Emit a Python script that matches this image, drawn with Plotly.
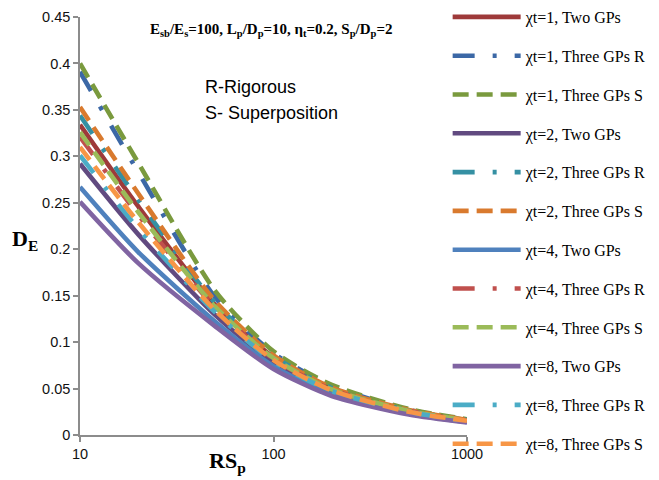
import plotly.graph_objects as go

# Slenderness ratio of the pile group (x axis, log scale)
rs_p = [10, 20, 50, 100, 200, 500, 1000]

# Settlement influence D_E for each case
names = [
    "χt=1, Two GPs", "χt=1, Three GPs R", "χt=1, Three GPs S",
    "χt=2, Two GPs", "χt=2, Three GPs R", "χt=2, Three GPs S",
    "χt=4, Two GPs", "χt=4, Three GPs R", "χt=4, Three GPs S",
    "χt=8, Two GPs", "χt=8, Three GPs R", "χt=8, Three GPs S",
]

chi1_two     = [0.334, 0.246, 0.140, 0.0837, 0.0498, 0.026, 0.0150]
chi1_three_r = [0.391, 0.283, 0.148, 0.0880, 0.0530, 0.027, 0.0165]
chi1_three_s = [0.400, 0.293, 0.155, 0.0900, 0.0540, 0.028, 0.0170]
chi2_two     = [0.292, 0.216, 0.129, 0.0780, 0.0460, 0.024, 0.0145]
chi2_three_r = [0.344, 0.253, 0.142, 0.0850, 0.0506, 0.026, 0.0160]
chi2_three_s = [0.353, 0.260, 0.144, 0.0857, 0.0510, 0.027, 0.0163]
chi4_two     = [0.267, 0.197, 0.122, 0.0740, 0.0437, 0.023, 0.0140]
chi4_three_r = [0.321, 0.237, 0.137, 0.0820, 0.0488, 0.026, 0.0156]
chi4_three_s = [0.326, 0.240, 0.138, 0.0827, 0.0490, 0.026, 0.0157]
chi8_two     = [0.251, 0.185, 0.117, 0.0710, 0.0420, 0.022, 0.0135]
chi8_three_r = [0.301, 0.222, 0.132, 0.0793, 0.0473, 0.025, 0.0151]
chi8_three_s = [0.310, 0.229, 0.134, 0.0806, 0.0480, 0.025, 0.0153]

series = [chi1_two, chi1_three_r, chi1_three_s,
          chi2_two, chi2_three_r, chi2_three_s,
          chi4_two, chi4_three_r, chi4_three_s,
          chi8_two, chi8_three_r, chi8_three_s]

colors = ["#9E3A3A", "#3C68A6", "#7A9A3E",
          "#614A80", "#3590A3", "#D97A2E",
          "#4F81BD", "#C0504D", "#9BBB59",
          "#8064A2", "#4BACC6", "#F79646"]

DASH_R = "22px,18px,4px,18px"
DASH_S = "16px,8px"
dashes = ["solid", DASH_R, DASH_S] * 4

fig = go.Figure()
for i, (nm, ys, c, d) in enumerate(zip(names, series, colors, dashes)):
    fig.add_trace(go.Scatter(
        x=rs_p, y=ys, mode="lines", name=nm,
        legendgroup=f"g{i}",
        line=dict(color=c, width=4.6, dash=d, shape="spline", smoothing=0.7),
    ))

axis_color = "#8C8C8C"
tick_font = dict(family="Liberation Sans, Arial", size=14.5, color="#111111")

fig.update_xaxes(
    type="log", range=[1, 3],
    tickvals=[10, 100, 1000], ticktext=["10", "100", "1000"],
    showgrid=False, zeroline=False,
    showline=True, linecolor=axis_color, linewidth=1.5,
    ticks="outside", ticklen=5, tickcolor=axis_color, tickwidth=1.5,
    tickfont=tick_font,
)
fig.update_yaxes(
    range=[0, 0.45], dtick=0.05, tick0=0,
    showgrid=False, zeroline=False,
    showline=True, linecolor=axis_color, linewidth=1.5,
    ticks="outside", ticklen=5, tickcolor=axis_color, tickwidth=1.5,
    tickfont=tick_font,
)

serif = "Liberation Serif, Times New Roman"
sans = "Liberation Sans, Arial"

fig.add_annotation(
    text="<b>E<sub>sb</sub>/E<sub>s</sub>=100, L<sub>p</sub>/D<sub>p</sub>=10, "
         "η<sub>t</sub>=0.2, S<sub>p</sub>/D<sub>p</sub>=2</b>",
    xref="paper", yref="paper", x=0.176, y=0.969,
    xanchor="left", yanchor="middle", showarrow=False,
    font=dict(family=serif, size=15, color="#000000"),
)
fig.add_annotation(
    text="R-Rigorous", xref="paper", yref="paper", x=0.318, y=0.8325,
    xanchor="left", yanchor="middle", showarrow=False,
    font=dict(family=sans, size=18, color="#000000"),
)
fig.add_annotation(
    text="S- Superposition", xref="paper", yref="paper", x=0.318, y=0.770,
    xanchor="left", yanchor="middle", showarrow=False,
    font=dict(family=sans, size=18, color="#000000"),
)
fig.add_annotation(
    text="<b>D<sub>E</sub></b>", xref="paper", yref="paper", x=-0.181, y=0.467,
    xanchor="left", yanchor="middle", showarrow=False,
    font=dict(family=serif, size=22, color="#000000"),
)
fig.add_annotation(
    text="<b>RS<sub>p</sub></b>", xref="paper", yref="paper", x=0.328, y=-0.065,
    xanchor="left", yanchor="middle", showarrow=False,
    font=dict(family=serif, size=22, color="#000000"),
)

fig.update_layout(
    width=659, height=480,
    margin=dict(l=80, r=192, t=17, b=45, autoexpand=False),
    paper_bgcolor="white", plot_bgcolor="white",
    showlegend=True,
    legend=dict(
        x=0.95, xanchor="left", y=1.0, yref="container", yanchor="top",
        bgcolor="rgba(0,0,0,0)", itemwidth=68, tracegroupgap=15.0,
        maxheight=480,
        font=dict(family=serif, size=16, color="#000000"),
    ),
)

fig.write_html("out.html")
